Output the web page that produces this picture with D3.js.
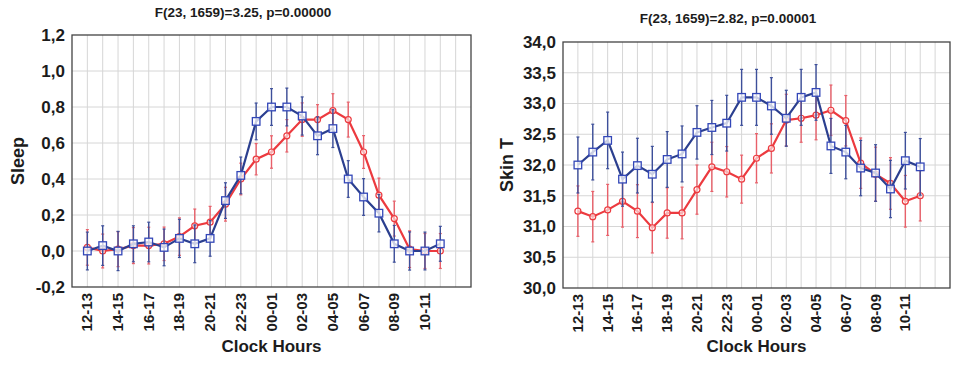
<!DOCTYPE html>
<html>
<head>
<meta charset="utf-8">
<script src="https://cdn.jsdelivr.net/npm/d3@7"></script>
<style>
  body { margin: 0; background: #fff; }
  text { font-family: "Liberation Sans", Arial, sans-serif; font-weight: bold; fill: #1c1c1c; }
</style>
</head>
<body>
<div id="chart"></div>
<script>
var width = 958, height = 365

var hours = ["12-13","13-14","14-15","15-16","16-17","17-18","18-19","19-20","20-21","21-22","22-23","23-24",
             "00-01","01-02","02-03","03-04","04-05","05-06","06-07","07-08","08-09","09-10","10-11","11-12"]

// Sleep panel
var sleepRed     = [0.02,0.00,0.01,0.03,0.03,0.04,0.08,0.14,0.16,0.26,0.40,0.51,0.55,0.64,0.73,0.73,0.78,0.73,0.55,0.31,0.18,0.01,0.00,0.00]
var sleepRedErr  = [0.099,0.094,0.097,0.100,0.102,0.093,0.104,0.093,0.088,0.094,0.088,0.087,0.090,0.090,0.093,0.083,0.094,0.097,0.091,0.095,0.097,0.102,0.097,0.097]
var sleepBlue    = [0.00,0.03,0.00,0.04,0.05,0.02,0.07,0.04,0.07,0.28,0.42,0.72,0.80,0.80,0.75,0.64,0.68,0.40,0.30,0.21,0.04,0.00,0.00,0.04]
var sleepBlueErr = [0.105,0.110,0.109,0.100,0.110,0.102,0.106,0.105,0.099,0.099,0.102,0.102,0.102,0.105,0.106,0.105,0.105,0.102,0.102,0.104,0.102,0.106,0.105,0.097]
var sleepTicks   = [-0.2,0,0.2,0.4,0.6,0.8,1.0,1.2]

// Skin temperature panel
var skinRed      = [31.25,31.16,31.27,31.41,31.25,30.98,31.22,31.22,31.60,31.97,31.89,31.77,32.11,32.27,32.73,32.76,32.81,32.89,32.72,32.03,31.85,31.70,31.41,31.50]
var skinRedErr   = [0.41,0.41,0.415,0.42,0.43,0.41,0.41,0.42,0.40,0.40,0.41,0.39,0.40,0.40,0.42,0.39,0.40,0.41,0.41,0.41,0.44,0.42,0.42,0.41]
var skinBlue     = [32.00,32.21,32.40,31.77,31.99,31.85,32.09,32.18,32.53,32.61,32.68,33.10,33.10,32.96,32.76,33.10,33.18,32.31,32.21,31.95,31.87,31.61,32.07,31.97]
var skinBlueErr  = [0.455,0.453,0.46,0.44,0.445,0.453,0.453,0.455,0.434,0.44,0.453,0.455,0.455,0.46,0.455,0.455,0.453,0.447,0.434,0.45,0.46,0.466,0.46,0.46]
var skinTicks    = [30.0,30.5,31.0,31.5,32.0,32.5,33.0,33.5,34.0]

var redColor = "#ec3a3f", redBar = "#e8606a"
var blueColor = "#2b3f8f", blueBar = "#3d4f9a"

var svg = d3.select("#chart").append("svg")
    .attr("width", width)
    .attr("height", height)

var fmt = function(v) { return d3.format(".1f")(v).replace(".", ",").replace("−", "-") }

function drawPanel(opt) {
    var g = svg.append("g")

    var x = d3.scaleLinear().domain([0, hours.length + 2]).range([opt.left, opt.right])
    var y = d3.scaleLinear().domain(opt.domain).range([opt.bottom, opt.top])

    // grid
    g.selectAll(".vgrid").data(d3.range(1, hours.length + 2))
        .enter().append("line")
            .attr("x1", d => x(d)).attr("x2", d => x(d))
            .attr("y1", opt.top).attr("y2", opt.bottom)
            .attr("stroke", "#d6d6d6").attr("stroke-width", 1)
    g.selectAll(".hgrid").data(opt.ticks.slice(1, -1))
        .enter().append("line")
            .attr("x1", opt.left).attr("x2", opt.right)
            .attr("y1", d => y(d)).attr("y2", d => y(d))
            .attr("stroke", "#d6d6d6").attr("stroke-width", 1)

    // frame
    g.append("rect")
        .attr("x", opt.left).attr("y", opt.top)
        .attr("width", opt.right - opt.left).attr("height", opt.bottom - opt.top)
        .attr("fill", "none").attr("stroke", "#444").attr("stroke-width", 1.3)

    // y axis
    var yAxis = d3.axisLeft(y).tickValues(opt.ticks).tickSize(0).tickPadding(7).tickFormat(fmt)
    var ya = g.append("g").attr("transform", "translate(" + opt.left + ",0)").call(yAxis)
    ya.select(".domain").remove()
    ya.selectAll("text").attr("font-size", "17px").attr("fill", "#1c1c1c")
        .style("font-family", "'Liberation Sans', Arial, sans-serif").style("font-weight", "bold")

    // x axis: labels every other hour
    var xa = g.append("g")
    xa.selectAll("text").data(hours.map((h, i) => ({h: h, i: i + 1})).filter(d => d.i % 2 === 1))
        .enter().append("text")
            .attr("transform", d => "translate(" + (x(d.i) + 5) + "," + (opt.bottom + 6) + ") rotate(-90)")
            .attr("text-anchor", "end")
            .attr("font-size", "15px")
            .text(d => d.h)

    g.append("text")
        .attr("x", (opt.left + opt.right) / 2)
        .attr("y", 352)
        .attr("text-anchor", "middle")
        .attr("font-size", "17px")
        .text("Clock Hours")

    g.append("text")
        .attr("transform", "translate(" + opt.ylabX + "," + ((opt.top + opt.bottom) / 2) + ") rotate(-90)")
        .attr("text-anchor", "middle")
        .attr("font-size", "18px")
        .text(opt.ylabel)

    g.append("text")
        .attr("x", opt.titleX).attr("y", opt.titleY)
        .attr("text-anchor", "middle")
        .attr("font-size", "13.5px")
        .text(opt.title)

    // series
    var series = [
        {vals: opt.red, err: opt.redErr, color: redColor, bar: redBar, shape: "circle"},
        {vals: opt.blue, err: opt.blueErr, color: blueColor, bar: blueBar, shape: "square"}
    ]
    var line = d3.line().x((d, i) => x(i + 1)).y(d => y(d))

    series.forEach(function(s) {
        var sg = g.append("g")
        var pts = s.vals.map((v, i) => ({i: i + 1, v: v, e: s.err[i]}))

        sg.selectAll(".eb").data(pts).enter().append("line")
            .attr("x1", d => x(d.i)).attr("x2", d => x(d.i))
            .attr("y1", d => y(d.v - d.e)).attr("y2", d => y(d.v + d.e))
            .attr("stroke", s.bar).attr("stroke-width", 1.4)
        sg.selectAll(".capt").data(pts).enter().append("line")
            .attr("x1", d => x(d.i) - 1.5).attr("x2", d => x(d.i) + 1.5)
            .attr("y1", d => y(d.v + d.e)).attr("y2", d => y(d.v + d.e))
            .attr("stroke", s.bar).attr("stroke-width", 1.2)
        sg.selectAll(".capb").data(pts).enter().append("line")
            .attr("x1", d => x(d.i) - 1.5).attr("x2", d => x(d.i) + 1.5)
            .attr("y1", d => y(d.v - d.e)).attr("y2", d => y(d.v - d.e))
            .attr("stroke", s.bar).attr("stroke-width", 1.2)

        sg.append("path").datum(s.vals)
            .attr("d", line)
            .attr("fill", "none")
            .attr("stroke", s.color)
            .attr("stroke-width", 2.2)

        if (s.shape === "circle") {
            sg.selectAll(".mk").data(pts).enter().append("circle")
                .attr("cx", d => x(d.i)).attr("cy", d => y(d.v))
                .attr("r", 3)
                .attr("fill", "#fff").attr("fill-opacity", 0.6)
                .attr("stroke", s.color).attr("stroke-width", 1.2)
        } else {
            sg.selectAll(".mk").data(pts).enter().append("rect")
                .attr("x", d => x(d.i) - 3.8).attr("y", d => y(d.v) - 3.8)
                .attr("width", 7.6).attr("height", 7.6)
                .attr("fill", "#fff").attr("fill-opacity", 0.75)
                .attr("stroke", "#3347b8").attr("stroke-width", 1.3)
        }
    })
}

drawPanel({
    left: 72, right: 471, top: 35, bottom: 287,
    domain: [-0.2, 1.2], ticks: sleepTicks,
    red: sleepRed, redErr: sleepRedErr, blue: sleepBlue, blueErr: sleepBlueErr,
    ylabel: "Sleep", ylabX: 24,
    title: "F(23, 1659)=3.25, p=0.00000", titleX: 243, titleY: 17
})

drawPanel({
    left: 563, right: 950, top: 42, bottom: 288,
    domain: [30, 34], ticks: skinTicks,
    red: skinRed, redErr: skinRedErr, blue: skinBlue, blueErr: skinBlueErr,
    ylabel: "Skin T", ylabX: 513,
    title: "F(23, 1659)=2.82, p=0.00001", titleX: 728, titleY: 23
})
</script>
</body>
</html>
